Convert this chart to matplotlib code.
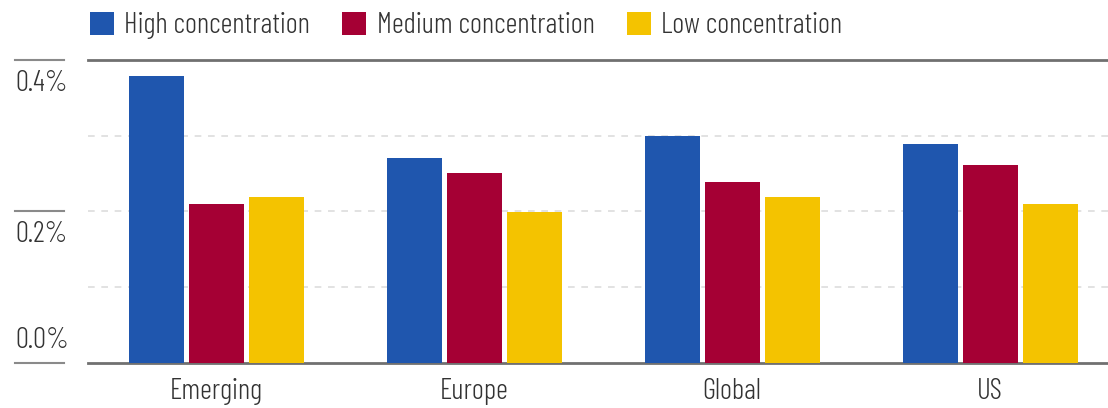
import matplotlib.pyplot as plt
import matplotlib.transforms as mtransforms
import numpy as np

# data
regions = ['Emerging', 'Europe', 'Global', 'US']
series = ['High concentration', 'Medium concentration', 'Low concentration']
high = [0.3795, 0.2709, 0.3000, 0.2894]
medium = [0.2099, 0.2510, 0.2390, 0.2616]
low = [0.2192, 0.1993, 0.2192, 0.2099]
yticks = [0.0, 0.2, 0.4]
ytick_labels = ['0.0%', '0.2%', '0.4%']

colors = ['#1f56ae', '#a50034', '#f4c300']
font = ['Barlow Condensed', 'DejaVu Sans']
txt = '#333333'
fs = 21

fig = plt.figure(figsize=(11.08, 4.08), dpi=100)
ax = fig.add_axes([88 / 1108, (408 - 362.5) / 408, 1 - 88 / 1108, (362.5 - 60.5) / 408])

x = np.arange(len(regions))
w = 55 / 258
step = 60 / 258
for i, (vals, name) in enumerate(zip([high, medium, low], series)):
    ax.bar(x + (i - 1) * step, vals, width=w, color=colors[i], label=name, zorder=3)

ax.set_xlim(-128 / 258, 892 / 258)
ax.set_ylim(0, 0.4)

# dashed gridlines at .1 .2 .3
for g in [0.1, 0.2, 0.3]:
    ax.axhline(g, color='#dddddd', lw=1.2, ls=(0, (4, 4)), zorder=1)

for s in ['left', 'right']:
    ax.spines[s].set_visible(False)
for s in ['top', 'bottom']:
    ax.spines[s].set_color('#707070')
    ax.spines[s].set_linewidth(2)

ax.set_yticks([])
ax.set_xticks(x)
ax.set_xticklabels(regions, family=font, fontsize=fs, weight=300, color=txt)
ax.tick_params(axis='x', length=0, pad=11)

# y labels on the far left with short rules
btrans = mtransforms.blended_transform_factory(fig.transFigure, ax.transData)
for v, lab in zip(yticks, ytick_labels):
    ax.plot([15 / 1108, 64 / 1108], [v, v], transform=btrans, color='#8a8a8a',
            lw=1.5, clip_on=False)
    off = 0.029 if v == 0.0 else -0.031
    ax.text(15 / 1108, v + off, lab, transform=btrans, ha='left', va='center',
            family=font, fontsize=fs, weight=300, color=txt)

leg = fig.legend(loc='upper left', bbox_to_anchor=(90 / 1108, 1 - 12 / 408), ncol=3,
                 frameon=False, handlelength=0.82, handleheight=0.82,
                 handletextpad=0.36, columnspacing=1.1, borderpad=0, borderaxespad=0,
                 prop={'family': font, 'size': fs, 'weight': 300})
for t in leg.get_texts():
    t.set_color(txt)

fig.savefig('out.png', dpi=100)
